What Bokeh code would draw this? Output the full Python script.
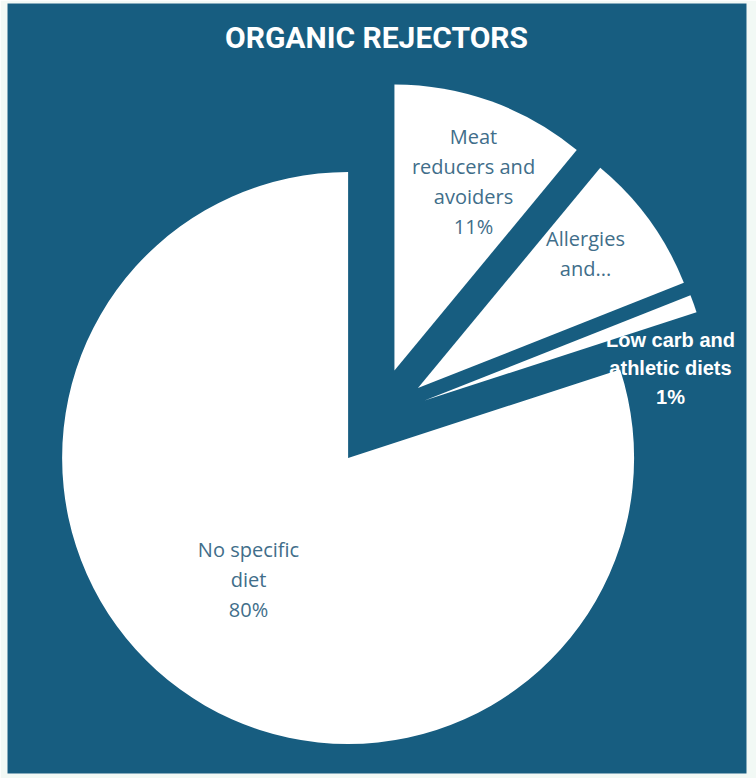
import math
from bokeh.plotting import figure
from bokeh.models import Range1d, ColumnDataSource
from bokeh.core.properties import value
from bokeh.embed import file_html
from bokeh.resources import INLINE

# ---- data ----
categories = ["Meat reducers and avoiders", "Allergies and...", "Low carb and athletic diets", "No specific diet"]
values = [11, 8, 1, 80]
label_texts = ["Meat\nreducers and\navoiders\n11%", "Allergies\nand...", "Low carb and\nathletic diets\n1%", "No specific\ndiet\n80%"]
title_text = "ORGANIC REJECTORS"

# ---- layout (pixel-like data space, y up) ----
W, H = 756, 778
BLUE = "#175d80"
LIGHT = "#f2f9f5"
cx, cy = 377, H - 417   # pie centre
R = 286                  # radius
EXPLODE = 50             # explosion distance

total = float(sum(values))
starts, ends, xs, ys = [], [], [], []
acc = 0.0
for v in values:
    phi1 = acc / total * 2 * math.pi          # clockwise from north
    phi2 = (acc + v) / total * 2 * math.pi
    mid = (phi1 + phi2) / 2
    xs.append(cx + EXPLODE * math.sin(mid))
    ys.append(cy + EXPLODE * math.cos(mid))
    starts.append(math.pi / 2 - phi2)
    ends.append(math.pi / 2 - phi1)
    acc += v

src = ColumnDataSource(dict(x=xs, y=ys, start=starts, end=ends, cat=categories))

p = figure(width=W, height=H, output_backend="svg", toolbar_location=None,
           x_range=Range1d(7, 746), y_range=Range1d(H - 773, H - 3),
           min_border_left=7, min_border_right=10, min_border_top=3, min_border_bottom=5)
p.background_fill_color = BLUE
p.border_fill_color = LIGHT
p.outline_line_color = None
p.axis.visible = False
p.grid.visible = False

p.wedge(x="x", y="y", radius=R, start_angle="start", end_angle="end",
        direction="anticlock", fill_color="white", line_color=None, source=src)

# labels inside light slices
in_src = ColumnDataSource(dict(x=[473, 585, 248], y=[H - 181, H - 253, H - 579],
                               t=[label_texts[0], label_texts[1], label_texts[3]]))
p.text(x="x", y="y", text="t", source=in_src, text_align="center", text_baseline="middle",
       text_font=value("Open Sans"), text_font_size="20px", text_color="#416e8a",
       text_line_height=1.1)

# white bold label outside
out_src = ColumnDataSource(dict(x=[670], y=[H - 368], t=[label_texts[2]]))
p.text(x="x", y="y", text="t", source=out_src, text_align="center", text_baseline="middle",
       text_font=value("Liberation Sans"), text_font_style="bold", text_font_size="20px",
       text_color="white", text_line_height=1.3)

# title
p.text(x=[376], y=[H - 37], text=[title_text], text_align="center", text_baseline="middle",
       text_font=value("Roboto"), text_font_style="bold", text_font_size="30px",
       text_color="white")

open("out.html", "w").write(file_html(p, INLINE))
